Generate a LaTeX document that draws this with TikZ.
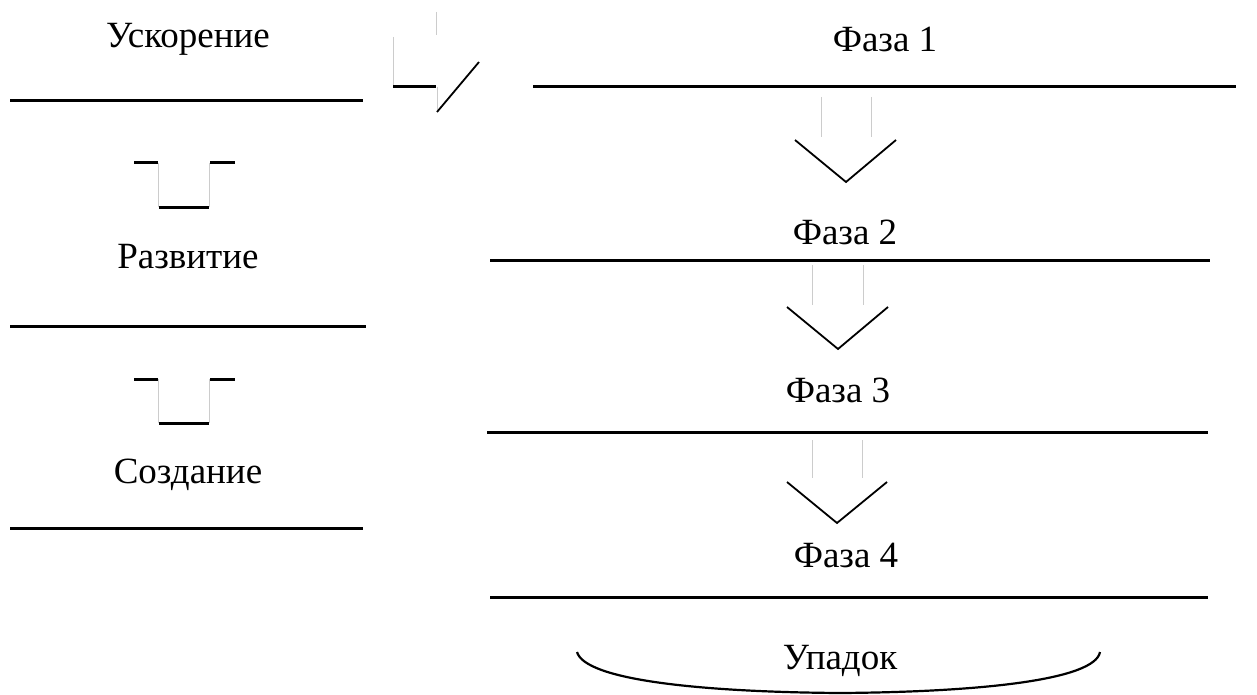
\documentclass[tikz,border=0pt]{standalone}
\usepackage{fontspec}
\setmainfont{Liberation Serif}
\begin{document}
\begin{tikzpicture}[x=1pt,y=-1pt,
  lbl/.style={font=\fontsize{37}{40}\selectfont, inner sep=0pt, anchor=base},
  rule/.style={line width=3pt},
  ghost/.style={draw=black!20, line width=1pt},
  chev/.style={line width=1.8pt},
  seg/.style={line width=3pt}]
\useasboundingbox (0,0) rectangle (1257,695);
% left column
\node[lbl] (usk) at (188,48) {Ускорение};
\draw[rule] (10,101) -- (363,101);
\node[lbl] (razv) at (188,268) {Развитие};
\draw[rule] (10,326) -- (366,326);
\node[lbl] (sozd) at (188,483) {Создание};
\draw[rule] (10,528) -- (363,528);
% brackets
\foreach \y in {163,379}{
  \draw[seg] (134,\y) -- (158,\y);
  \draw[seg] (210,\y) -- (235,\y);
  \draw[ghost] (158,\y) -- (158,\y+44);
  \draw[ghost] (209,\y) -- (209,\y+44);
  \draw[seg] (159,\y+44) -- (209,\y+44);
}
% broken arrow at top
\draw[ghost] (436,12) -- (436,35);
\draw[ghost] (393,37) -- (393,87);
\draw[seg] (393,87) -- (436,87);
\draw[ghost] (437,87) -- (437,110);
\draw[chev] (437,112) -- (479,62);
% right column
\node[lbl] (f1) at (885,52) {Фаза 1};
\draw[rule] (533,87) -- (1236,87);
\draw[ghost] (821,97) -- (821,137);
\draw[ghost] (871,97) -- (871,137);
\draw[chev] (795,140) -- (846,182) -- (896,140);
\node[lbl] (f2) at (845,244) {Фаза 2};
\draw[rule] (490,260) -- (1210,260);
\draw[ghost] (812,265) -- (812,305);
\draw[ghost] (863,265) -- (863,305);
\draw[chev] (787,307) -- (838,349) -- (888,307);
\node[lbl] (f3) at (838,402) {Фаза 3};
\draw[rule] (487,432) -- (1208,432);
\draw[ghost] (812,440) -- (812,478);
\draw[ghost] (862,440) -- (862,478);
\draw[chev] (787,482) -- (837,523) -- (887,482);
\node[lbl] (f4) at (846,567) {Фаза 4};
\draw[rule] (490,597) -- (1208,597);
\node[lbl] (upad) at (840,669) {Упадок};
\draw[line width=2.2pt] (577,652) .. controls (585,680) and (700,692) .. (840,693) .. controls (980,692) and (1095,680) .. (1100,652);
\end{tikzpicture}
\end{document}
